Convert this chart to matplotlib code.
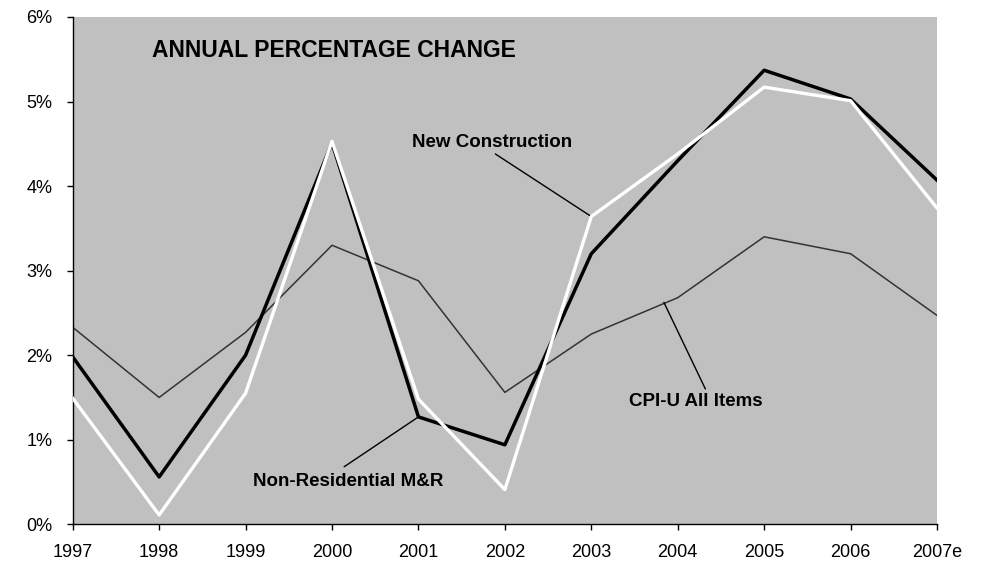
import matplotlib
matplotlib.use("Agg")
import matplotlib.pyplot as plt

plt.rcParams['font.family'] = ['Liberation Sans', 'DejaVu Sans']

years = [1997, 1998, 1999, 2000, 2001, 2002, 2003, 2004, 2005, 2006, 2007]
year_labels = ['1997', '1998', '1999', '2000', '2001', '2002', '2003', '2004', '2005', '2006', '2007e']

# annual % change
new_construction = [1.49, 0.11, 1.55, 4.53, 1.48, 0.41, 3.64, 4.38, 5.17, 5.01, 3.74]
non_res_mr = [1.98, 0.56, 2.00, 4.51, 1.27, 0.94, 3.20, 4.30, 5.37, 5.03, 4.07]
cpi_u = [2.33, 1.50, 2.27, 3.30, 2.88, 1.56, 2.25, 2.68, 3.40, 3.20, 2.47]

fig = plt.figure(figsize=(9.88, 5.66), dpi=100)
ax = fig.add_axes([0.0736, 0.0737, 0.8748, 0.8963])
ax.set_facecolor('#c0c0c0')

ax.plot(years, cpi_u, color='#333333', lw=1.1, zorder=2)
ax.plot(years, non_res_mr, color='black', lw=2.5, zorder=3)
ax.plot(years, new_construction, color='white', lw=2.4, zorder=4)

ax.set_xlim(1997, 2007)
ax.set_ylim(0, 6)
ax.set_xticks(years)
ax.set_xticklabels(year_labels)
ax.set_yticks(range(7))
ax.set_yticklabels(['%d%%' % v for v in range(7)])
ax.tick_params(axis='both', direction='out', length=4.3, width=1, labelsize=13, color='black')
ax.tick_params(axis='x', pad=10)
ax.tick_params(axis='y', pad=10.5)
for s in ['top', 'right']:
    ax.spines[s].set_visible(False)
for s in ['left', 'bottom']:
    ax.spines[s].set_linewidth(1)

ax.text(2000.02, 5.60, 'ANNUAL PERCENTAGE CHANGE', fontsize=16.5, fontweight='bold', va='center', ha='center')

lbl = dict(fontsize=13.5, fontweight='bold', ha='center', va='center')
leader = dict(arrowstyle='-', color='black', lw=1, shrinkA=0, shrinkB=0)

ax.text(2001.85, 4.52, 'New Construction', **lbl)
ax.annotate('', xy=(2003, new_construction[6]), xytext=(2001.89, 4.38), arrowprops=leader)

ax.text(2000.19, 0.51, 'Non-Residential M&R', **lbl)
ax.annotate('', xy=(2001, non_res_mr[4]), xytext=(2000.14, 0.68), arrowprops=leader)

ax.text(2004.21, 1.45, 'CPI-U All Items', **lbl)
ax.annotate('', xy=(2003.84, 2.625), xytext=(2004.32, 1.60), arrowprops=leader)

fig.savefig('out.png', dpi=100)
